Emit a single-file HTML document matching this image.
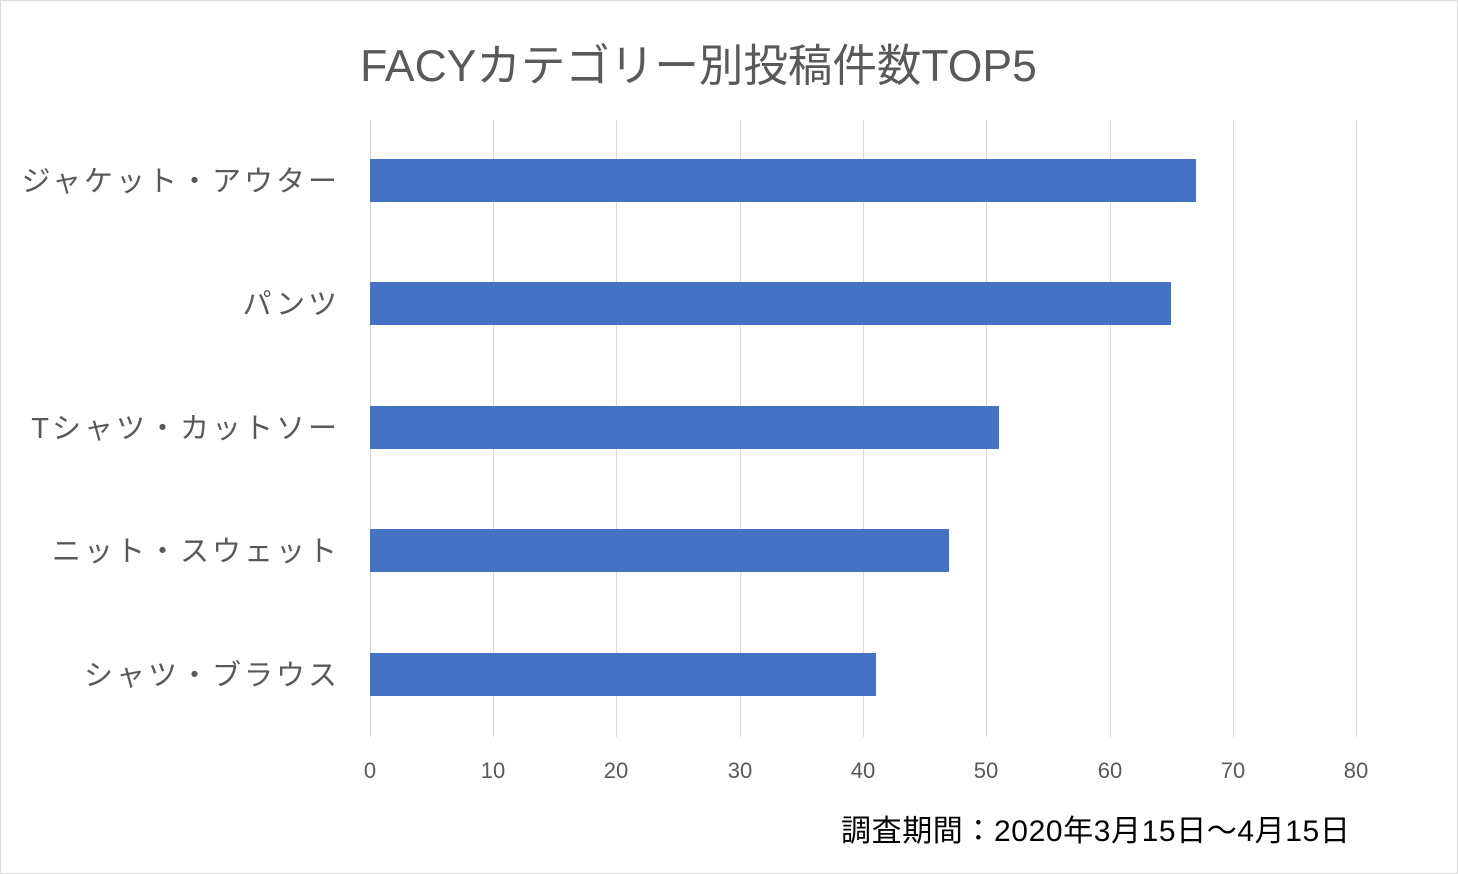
<!DOCTYPE html>
<html><head><meta charset="utf-8"><style>
body{margin:0;background:#fff;}
#c{position:relative;width:1456px;height:872px;border:1px solid #d9d9d9;background:#fff;font-family:"Liberation Sans","Noto Sans CJK JP",sans-serif;overflow:hidden}
.t{position:absolute;white-space:nowrap}
.g{position:absolute;top:119px;height:617px;width:1px;background:#d9d9d9}
.b{position:absolute;left:369px;height:43px;background:#4472c4}
.cat{position:absolute;right:1117px;font-size:29px;color:#595959;letter-spacing:3px;white-space:nowrap;transform:translateY(-50%)}
.tk{position:absolute;top:757px;font-size:22px;color:#595959;transform:translateX(-50%)}
</style></head><body><div id="c">
<div class="t" style="left:0;width:1395px;text-align:center;top:28px;font-size:44.5px;color:#595959">FACYカテゴリー別投稿件数TOP5</div>
<div class="g" style="left:369px"></div><div class="g" style="left:492px"></div><div class="g" style="left:615px"></div><div class="g" style="left:739px"></div><div class="g" style="left:862px"></div><div class="g" style="left:985px"></div><div class="g" style="left:1109px"></div><div class="g" style="left:1232px"></div><div class="g" style="left:1355px"></div>
<div class="b" style="top:158px;width:826px"></div>
<div class="b" style="top:281px;width:801px"></div>
<div class="b" style="top:405px;width:629px"></div>
<div class="b" style="top:528px;width:579px"></div>
<div class="b" style="top:652px;width:506px"></div>
<div class="cat" style="top:178px">ジャケット・アウター</div>
<div class="cat" style="top:301px">パンツ</div>
<div class="cat" style="top:425px">Tシャツ・カットソー</div>
<div class="cat" style="top:548px">ニット・スウェット</div>
<div class="cat" style="top:672px">シャツ・ブラウス</div>
<div class="tk" style="left:369px">0</div><div class="tk" style="left:492px">10</div><div class="tk" style="left:615px">20</div><div class="tk" style="left:739px">30</div><div class="tk" style="left:862px">40</div><div class="tk" style="left:985px">50</div><div class="tk" style="left:1109px">60</div><div class="tk" style="left:1232px">70</div><div class="tk" style="left:1355px">80</div>
<div class="t" style="left:840px;top:805px;font-size:30px;letter-spacing:0.6px;color:#000">調査期間：2020年3月15日〜4月15日</div>
</div></body></html>
